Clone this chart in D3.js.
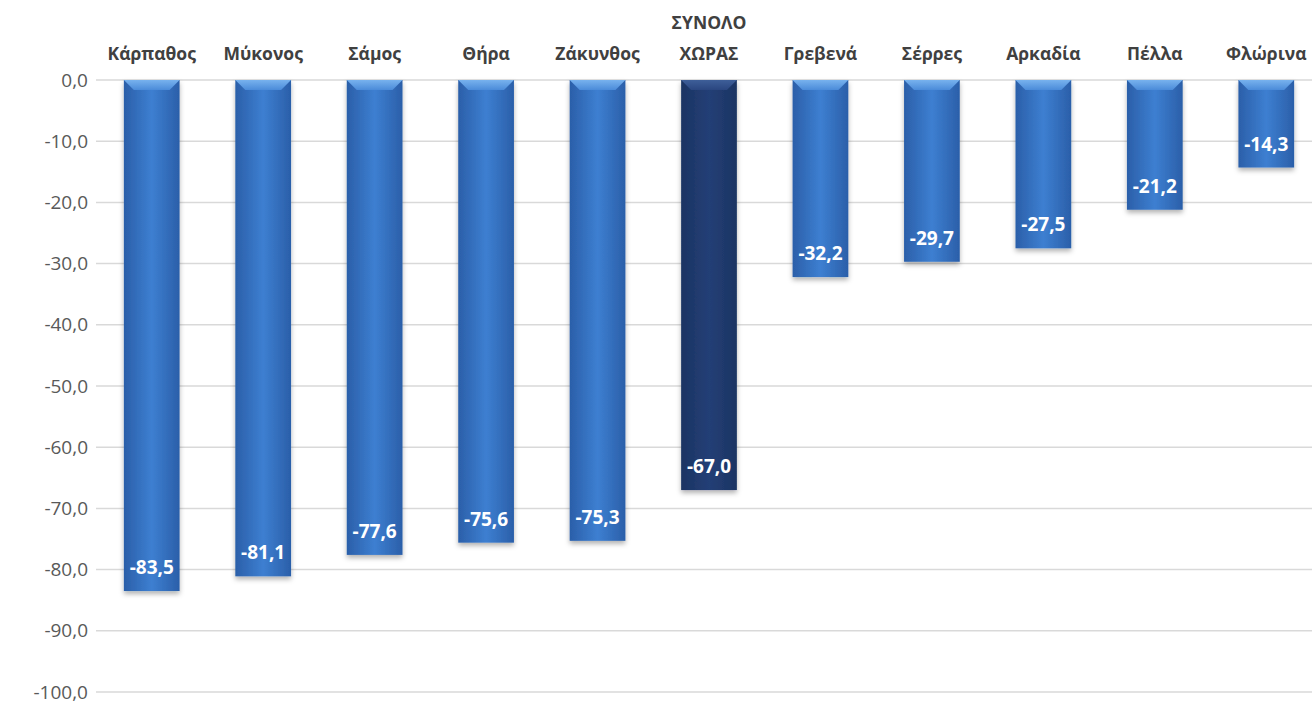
<!DOCTYPE html>
<html>
<head>
<meta charset="utf-8">
<script src="https://cdn.jsdelivr.net/npm/d3@7"></script>
<style>
  body { margin: 0; background: #fff; }
  text { font-family: "Open Sans", sans-serif; }
</style>
</head>
<body>
<svg id="chart"></svg>
<script>
// Data
const categories = ["Κάρπαθος", "Μύκονος", "Σάμος", "Θήρα", "Ζάκυνθος", "ΣΥΝΟΛΟ ΧΩΡΑΣ",
  "Γρεβενά", "Σέρρες", "Αρκαδία", "Πέλλα", "Φλώρινα"];
const values = [-83.5, -81.1, -77.6, -75.6, -75.3, -67.0, -32.2, -29.7, -27.5, -21.2, -14.3];
const yTicks = [0, -10, -20, -30, -40, -50, -60, -70, -80, -90, -100];
const totalLabel = "ΣΥΝΟΛΟ ΧΩΡΑΣ";

const width = 1312;
const height = 702;
const margin = { top: 80, right: -10, bottom: 10, left: 96 };

const svg = d3.select("#chart").attr("width", width).attr("height", height);

const fmt = v => d3.format(".1f")(v).replace(".", ",").replace("−", "-");

const x = d3.scaleBand()
  .domain(categories)
  .range([margin.left, width - margin.right])
  .paddingInner(0.5)
  .paddingOuter(0.25);

const y = d3.scaleLinear()
  .domain([0, -100])
  .range([margin.top, height - margin.bottom]);

// Gradients
const defs = svg.append("defs");
function addGrad(id, edge, mid) {
  const g = defs.append("linearGradient").attr("id", id)
    .attr("x1", "0%").attr("x2", "100%").attr("y1", "0%").attr("y2", "0%");
  g.append("stop").attr("offset", "0%").attr("stop-color", edge);
  g.append("stop").attr("offset", "50%").attr("stop-color", mid);
  g.append("stop").attr("offset", "100%").attr("stop-color", edge);
}
addGrad("blueGrad", "#2b5fa9", "#3d7fd1");
addGrad("navyGrad", "#1b3463", "#243f76");
const bevel = defs.append("linearGradient").attr("id", "bevelGrad")
  .attr("x1", "0%").attr("x2", "0%").attr("y1", "0%").attr("y2", "100%");
bevel.append("stop").attr("offset", "0%").attr("stop-color", "#78b2ee");
bevel.append("stop").attr("offset", "100%").attr("stop-color", "#4b8bd9");
const bevelN = defs.append("linearGradient").attr("id", "bevelNavy")
  .attr("x1", "0%").attr("x2", "0%").attr("y1", "0%").attr("y2", "100%");
bevelN.append("stop").attr("offset", "0%").attr("stop-color", "#3e5f99");
bevelN.append("stop").attr("offset", "100%").attr("stop-color", "#2a4680");
const shadow = defs.append("filter").attr("id", "shadow")
  .attr("x", "-20%").attr("y", "-5%").attr("width", "140%").attr("height", "115%");
shadow.append("feDropShadow").attr("dx", 0).attr("dy", 3).attr("stdDeviation", 2.5)
  .attr("flood-color", "#000").attr("flood-opacity", 0.3);

// Gridlines
svg.append("g")
  .selectAll("line")
  .data(yTicks)
  .join("line")
  .attr("x1", margin.left)
  .attr("x2", width)
  .attr("y1", d => y(d))
  .attr("y2", d => y(d))
  .attr("stroke", "#d9d9d9")
  .attr("stroke-width", 1.5);

// Y axis
const yAxis = svg.append("g")
  .attr("transform", `translate(${margin.left}, 0)`)
  .call(d3.axisLeft(y).tickValues(yTicks).tickFormat(fmt).tickSize(0).tickPadding(8));
yAxis.select(".domain").remove();
yAxis.selectAll("text")
  .attr("fill", "#595959")
  .style("font-size", "19px");

// Bars
const bars = svg.append("g").selectAll("g")
  .data(categories.map((c, i) => ({ c, v: values[i] })))
  .join("g");

bars.append("rect")
  .attr("x", d => x(d.c))
  .attr("y", y(0))
  .attr("width", x.bandwidth())
  .attr("height", d => y(d.v) - y(0))
  .attr("fill", d => d.c === totalLabel ? "url(#navyGrad)" : "url(#blueGrad)")
  .attr("filter", "url(#shadow)");

// top bevel
const bv = 10;
bars.append("path")
  .attr("d", d => {
    const x0 = x(d.c), x1 = x0 + x.bandwidth(), y0 = y(0);
    return `M${x0},${y0}L${x1},${y0}L${x1 - bv},${y0 + bv}L${x0 + bv},${y0 + bv}Z`;
  })
  .attr("fill", d => d.c === totalLabel ? "url(#bevelNavy)" : "url(#bevelGrad)");

// Value labels
bars.append("text")
  .attr("x", d => x(d.c) + x.bandwidth() / 2)
  .attr("y", d => y(d.v) - 17)
  .attr("text-anchor", "middle")
  .attr("fill", "#fff")
  .style("font-size", "19px")
  .style("font-weight", "bold")
  .text(d => fmt(d.v));

// Category labels
svg.append("g").selectAll("text")
  .data(categories)
  .join("text")
  .attr("x", d => x(d) + x.bandwidth() / 2)
  .attr("y", 60)
  .attr("text-anchor", "middle")
  .attr("fill", "#404040")
  .style("font-size", "17.5px")
  .style("font-weight", "bold")
  .each(function (d) {
    const words = d.split(" ");
    const t = d3.select(this);
    words.forEach((w, i) => {
      t.append("tspan")
        .attr("x", x(d) + x.bandwidth() / 2)
        .attr("dy", i === 0 ? -(words.length - 1) * 31 : 31)
        .text(w);
    });
  });
</script>
</body>
</html>
